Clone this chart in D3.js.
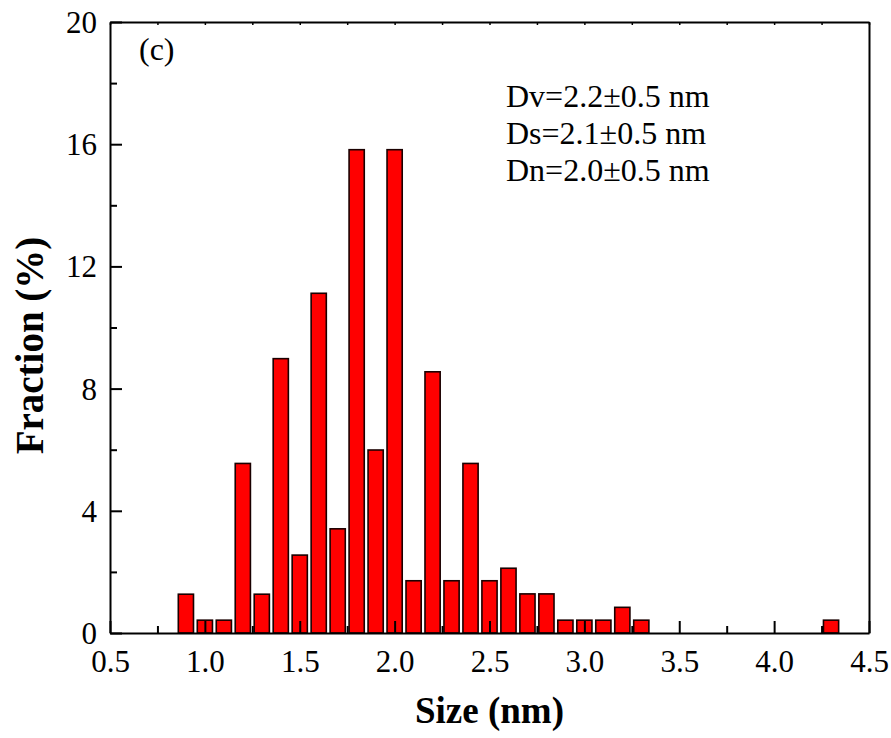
<!DOCTYPE html>
<html>
<head>
<meta charset="utf-8">
<script src="https://cdn.jsdelivr.net/npm/d3@7"></script>
<style>
  body { margin: 0; background: #fff; }
  svg { display: block; }
  text { font-family: "Liberation Serif", "Times New Roman", serif; fill: #000; }
</style>
</head>
<body>
<svg id="chart" width="891" height="738"></svg>
<script>
// Data
const sizes = [0.9, 1.0, 1.1, 1.2, 1.3, 1.4, 1.5, 1.6, 1.7, 1.8, 1.9, 2.0, 2.1, 2.2, 2.3, 2.4, 2.5, 2.6, 2.7, 2.8, 2.9, 3.0, 3.1, 3.2, 3.3, 4.3];
const fractions = [1.27, 0.42, 0.42, 5.55, 1.27, 8.98, 2.55, 11.12, 3.41, 15.82, 5.99, 15.82, 1.71, 8.55, 1.71, 5.55, 1.71, 2.12, 1.28, 1.28, 0.42, 0.42, 0.42, 0.84, 0.42, 0.42];
const xTicks = [0.5, 1.0, 1.5, 2.0, 2.5, 3.0, 3.5, 4.0, 4.5];
const xMinorTicks = [0.75, 1.25, 1.75, 2.25, 2.75, 3.25, 3.75, 4.25];
const yTicks = [0, 4, 8, 12, 16, 20];
const yMinorTicks = [2, 6, 10, 14, 18];
const annotations = ["Dv=2.2\u00b10.5 nm", "Ds=2.1\u00b10.5 nm", "Dn=2.0\u00b10.5 nm"];
const panelLabel = "(c)";
const xTitle = "Size (nm)";
const yTitle = "Fraction (%)";
const binWidth = 0.08;

const svg = d3.select("#chart");
const L = 110, R = 869, T = 22, B = 633;
const x = d3.scaleLinear().domain([0.5, 4.5]).range([L, R]);
const y = d3.scaleLinear().domain([0, 20]).range([B, T]);

// bars
svg.append("g").selectAll("rect")
  .data(sizes.map((s, i) => ({ s, v: fractions[i] })))
  .join("rect")
  .attr("x", d => x(d.s - binWidth / 2))
  .attr("width", d => x(d.s + binWidth / 2) - x(d.s - binWidth / 2))
  .attr("y", d => y(d.v))
  .attr("height", d => y(0) - y(d.v))
  .attr("fill", "#ff0000")
  .attr("stroke", "#1a0000")
  .attr("stroke-width", 1.6);

// bottom axis (major inward)
const xAxis = d3.axisBottom(x).tickValues(xTicks).tickFormat(d3.format(".1f"))
  .tickSizeInner(-12).tickSizeOuter(0);
const gx = svg.append("g").attr("transform", `translate(0,${B})`).call(xAxis)
  .attr("font-family", null).attr("font-size", null);
gx.selectAll(".tick line").attr("stroke", "#000").attr("stroke-width", 2);
gx.select(".domain").attr("stroke", "#000").attr("stroke-width", 2);
gx.selectAll(".tick text").attr("font-size", 31).attr("y", 39).attr("dy", null);
svg.append("g").attr("transform", `translate(0,${B})`)
  .call(d3.axisBottom(x).tickValues(xMinorTicks).tickSizeInner(-7).tickSizeOuter(0).tickFormat(""))
  .call(g => g.select(".domain").remove())
  .selectAll("line").attr("stroke", "#000").attr("stroke-width", 2);

// left axis
const yAxis = d3.axisLeft(y).tickValues(yTicks).tickFormat(d3.format("d"))
  .tickSizeInner(-12).tickSizeOuter(0);
const gy = svg.append("g").attr("transform", `translate(${L},0)`).call(yAxis)
  .attr("font-family", null).attr("font-size", null);
gy.selectAll(".tick line").attr("stroke", "#000").attr("stroke-width", 2);
gy.select(".domain").attr("stroke", "#000").attr("stroke-width", 2);
gy.selectAll(".tick text").attr("font-size", 31).attr("x", -13).attr("dy", "0.34em");
svg.append("g").attr("transform", `translate(${L},0)`)
  .call(d3.axisLeft(y).tickValues(yMinorTicks).tickSizeInner(-7).tickSizeOuter(0).tickFormat(""))
  .call(g => g.select(".domain").remove())
  .selectAll("line").attr("stroke", "#000").attr("stroke-width", 2);

// top axis (small ticks)
svg.append("g").attr("transform", `translate(0,${T})`)
  .call(d3.axisTop(x).tickValues(xTicks.concat(xMinorTicks)).tickSizeInner(-3).tickSizeOuter(0).tickFormat(""))
  .call(g => g.select(".domain").attr("stroke", "#000").attr("stroke-width", 2))
  .selectAll(".tick line").attr("stroke", "#000").attr("stroke-width", 1.5);

// right axis line
svg.append("g").attr("transform", `translate(${R},0)`)
  .call(d3.axisRight(y).tickValues([]).tickSizeOuter(0))
  .select(".domain").attr("stroke", "#000").attr("stroke-width", 2);

// titles
svg.append("text").attr("x", (L + R) / 2).attr("y", 723)
  .attr("text-anchor", "middle").attr("font-size", 37).attr("font-weight", "bold").text(xTitle);
svg.append("text").attr("transform", `translate(43,${(T + B) / 2 + 18}) rotate(-90)`)
  .attr("text-anchor", "middle").attr("font-size", 39).attr("font-weight", "bold").text(yTitle);

// panel label
svg.append("text").attr("x", 139).attr("y", 60).attr("font-size", 32).text(panelLabel);

// annotations
svg.append("g").selectAll("text").data(annotations).join("text")
  .attr("x", 506).attr("y", (d, i) => 107 + i * 37)
  .attr("font-size", 32).text(d => d);
</script>
</body>
</html>
